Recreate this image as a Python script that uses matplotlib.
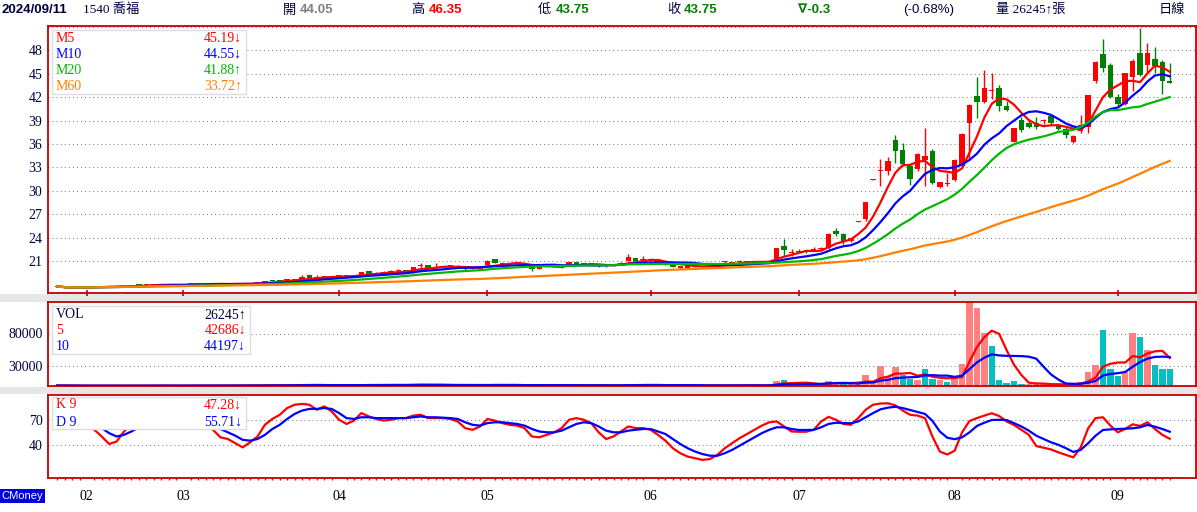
import matplotlib
matplotlib.use('Agg')
import matplotlib.pyplot as plt
from matplotlib.patches import Rectangle
import numpy as np
import pandas as pd

# ---------------- data (daily, 2024-01-26 .. 2024-09-11) ----------------
opens = [
    17.8, 17.6, 17.55, 17.55, 17.6, 17.7, 17.8, 17.75, 17.7, 17.75,
    17.85, 18.0, 18.0, 17.95, 17.97, 18.0, 17.95, 17.97, 18.05, 18.1,
    18.05, 18.1, 18.1, 18.05, 18.05, 18.1, 18.1, 18.2, 18.3, 18.5,
    18.5, 18.4, 18.6, 18.6, 19.2, 18.8, 19.0, 19.0, 19.05, 19.05,
    19.1, 19.1, 19.7, 19.4, 19.55, 19.4, 19.7, 19.75, 19.55, 20.35,
    20.49, 20.1, 20.25, 20.35, 20.4, 20.05, 19.95, 20.0, 20.49, 21.26,
    20.75, 20.6, 20.6, 20.75, 20.27, 20.0, 20.3, 20.35, 20.3, 20.54,
    20.9, 20.6, 20.7, 20.45, 20.35, 20.4, 20.55, 21.04, 21.34, 21.15,
    21.3, 21.0, 20.65, 20.5, 20.1, 20.1, 20.4, 20.3, 20.35, 20.3,
    20.85, 20.8, 20.9, 20.95, 20.85, 20.9, 20.9, 21.0, 23.0, 22.05,
    22.3, 22.3, 22.35, 22.55, 22.62, 24.83, 24.41, 23.6, 26.0, 26.33,
    31.4, 32.55, 32.58, 36.54, 35.27, 33.13, 32.84, 33.99, 35.14, 30.45,
    30.9, 31.35, 33.22, 38.68, 42.16, 41.4, 42.75, 43.18, 40.88, 36.29,
    39.1, 38.63, 38.65, 38.95, 39.61, 38.33, 37.91, 36.2, 37.6, 38.12,
    44.07, 47.53, 46.12, 42.07, 41.1, 44.63, 47.62, 46.1, 46.9, 46.5,
    44.05,
]
highs = [
    17.85, 17.65, 17.6, 17.65, 17.75, 17.85, 17.85, 17.8, 17.8, 17.85,
    18.0, 18.05, 18.05, 18.0, 18.05, 18.0, 18.0, 18.05, 18.15, 18.1,
    18.15, 18.15, 18.1, 18.1, 18.15, 18.15, 18.2, 18.35, 18.4, 18.55,
    18.55, 18.75, 18.65, 19.2, 19.25, 19.2, 19.1, 19.1, 19.1, 19.15,
    19.25, 19.65, 19.75, 19.55, 19.7, 19.85, 20.05, 19.8, 20.3, 20.7,
    20.5, 20.7, 20.4, 20.45, 20.45, 20.1, 20.05, 20.25, 21.1, 21.3,
    20.85, 20.7, 20.8, 20.8, 20.3, 20.5, 20.4, 20.4, 20.45, 20.9,
    20.95, 20.7, 20.75, 20.5, 20.5, 20.6, 20.85, 21.86, 21.4, 21.6,
    21.35, 21.1, 20.7, 20.55, 20.4, 20.45, 20.45, 20.35, 20.4, 20.55,
    21.0, 20.95, 21.2, 21.0, 20.95, 20.95, 21.05, 22.7, 23.8, 22.6,
    22.5, 22.4, 22.85, 22.8, 24.63, 25.27, 24.63, 24.0, 26.1, 28.6,
    31.5, 34.12, 34.28, 37.18, 36.12, 33.57, 34.84, 38.04, 35.35, 31.15,
    32.3, 34.1, 37.4, 41.1, 44.63, 45.5, 45.06, 43.5, 41.52, 38.1,
    39.39, 39.19, 39.45, 39.15, 39.8, 38.5, 38.33, 37.1, 39.7, 42.3,
    46.6, 49.4, 46.42, 42.37, 45.1, 46.85, 50.9, 48.97, 48.4, 46.8,
    46.35,
]
lows = [
    17.7, 17.55, 17.5, 17.5, 17.6, 17.7, 17.7, 17.65, 17.7, 17.75,
    17.8, 17.95, 17.9, 17.9, 17.95, 17.9, 17.9, 17.95, 18.0, 18.0,
    18.05, 18.05, 18.0, 18.0, 18.05, 18.05, 18.1, 18.15, 18.3, 18.4,
    18.4, 18.4, 18.55, 18.55, 18.8, 18.8, 18.95, 19.0, 19.0, 19.05,
    19.1, 19.1, 19.4, 19.35, 19.45, 19.4, 19.65, 19.7, 19.5, 20.07,
    20.0, 20.05, 20.2, 20.3, 20.25, 19.9, 19.9, 20.0, 20.45, 20.75,
    20.55, 20.55, 20.6, 20.55, 19.8, 19.98, 20.25, 20.25, 20.1, 20.5,
    20.5, 20.55, 20.5, 20.3, 20.3, 20.4, 20.5, 21.0, 21.0, 20.8,
    21.05, 20.85, 20.45, 20.2, 20.05, 20.05, 20.25, 20.2, 20.25, 20.25,
    20.75, 20.8, 20.85, 20.8, 20.8, 20.85, 20.9, 20.95, 21.6, 21.6,
    22.0, 22.1, 22.28, 22.4, 22.49, 24.19, 23.13, 23.5, 25.95, 26.2,
    31.35, 30.58, 32.07, 33.57, 33.13, 30.8, 32.49, 30.58, 30.9, 30.4,
    30.58, 31.2, 33.1, 33.99, 39.31, 41.3, 41.74, 40.16, 40.16, 36.2,
    37.56, 38.1, 37.97, 38.6, 38.4, 37.8, 36.71, 36.1, 37.36, 37.4,
    43.78, 45.23, 41.82, 40.67, 41.0, 42.8, 44.7, 45.1, 45.1, 42.4,
    43.75,
]
closes = [
    17.75, 17.6, 17.55, 17.6, 17.7, 17.8, 17.75, 17.7, 17.75, 17.8,
    17.9, 17.98, 17.95, 17.97, 18.0, 17.95, 17.97, 18.0, 18.1, 18.05,
    18.12, 18.1, 18.05, 18.05, 18.1, 18.1, 18.15, 18.25, 18.35, 18.45,
    18.45, 18.7, 18.6, 19.0, 18.8, 19.0, 19.0, 19.05, 19.05, 19.1,
    19.2, 19.6, 19.4, 19.5, 19.5, 19.7, 19.75, 19.72, 20.27, 20.4,
    20.07, 20.25, 20.35, 20.4, 20.3, 19.95, 20.0, 20.2, 21.04, 20.79,
    20.6, 20.65, 20.75, 20.6, 19.98, 20.3, 20.35, 20.3, 20.4, 20.83,
    20.56, 20.65, 20.55, 20.35, 20.4, 20.5, 20.8, 21.55, 21.04, 21.17,
    21.1, 20.9, 20.5, 20.3, 20.35, 20.4, 20.3, 20.25, 20.3, 20.5,
    20.9, 20.9, 20.95, 20.85, 20.9, 20.9, 21.0, 22.62, 22.4, 22.1,
    22.2, 22.25, 22.5, 22.62, 24.41, 24.41, 23.55, 23.9, 26.05, 28.59,
    31.45, 32.6, 33.86, 35.05, 33.48, 31.56, 34.71, 34.41, 31.0, 31.1,
    31.0, 33.99, 37.31, 41.01, 41.43, 43.1, 42.85, 40.8, 40.37, 38.07,
    37.82, 38.2, 38.2, 39.1, 38.63, 37.86, 37.18, 37.05, 38.46, 42.29,
    46.5, 45.66, 41.95, 41.1, 45.06, 46.63, 44.8, 47.6, 46.0, 44.05,
    43.75,
]
volumes = [
    800, 600, 500, 400, 500, 700, 400, 300, 400, 500,
    900, 700, 600, 500, 500, 400, 500, 600, 700, 500,
    800, 600, 500, 500, 600, 700, 800, 1500, 1300, 1100,
    900, 1800, 1000, 2200, 1700, 1500, 1000, 900, 800, 900,
    1000, 2500, 1800, 1300, 1200, 2000, 1800, 1200, 2600, 2000,
    1500, 1600, 1300, 1100, 900, 1200, 800, 900, 2800, 2200,
    1300, 900, 1000, 900, 1500, 1200, 800, 700, 900, 1600,
    1400, 800, 900, 1000, 700, 800, 1200, 2600, 1800, 1600,
    1100, 900, 1000, 900, 800, 900, 700, 600, 600, 800,
    1500, 1100, 1200, 900, 800, 700, 900, 8000, 9500, 3200,
    2600, 2000, 2400, 2800, 7800, 5600, 3600, 3000, 5100, 16300,
    5000, 30000, 14800, 28500, 16300, 10200, 8700, 25500, 10200, 8700,
    5600, 11000, 33100, 127400, 119300, 81000, 60700, 8700, 4100, 7100,
    3000, 2500, 2800, 3000, 2600, 2200, 2400, 3500, 6000, 20900,
    31600, 85100, 25700, 15300, 21400, 81000, 74900, 55200, 31600, 25500,
    26245,
]
k_values = [
    70, 72, 70, 68, 64, 58, 50, 41, 44, 56,
    64, 70, 72, 74, 75, 74, 72, 70, 68, 66,
    63, 58, 49, 47, 42, 37, 43, 50, 64, 71,
    76, 84, 88, 89, 88, 82, 86, 80, 70, 65,
    69, 78, 74, 71, 69, 70, 72, 72, 75, 76,
    72, 72, 72, 71, 68, 60, 58, 62, 71, 69,
    66, 64, 63, 60, 50, 49, 52, 55, 60, 70,
    72, 70, 66, 55, 47, 50, 56, 62, 60, 60,
    58, 52, 45, 36, 30, 26, 24, 22, 23, 28,
    36, 42, 48, 53, 58, 63, 67, 68, 62, 56,
    55.7, 55.7, 58, 68, 73.5, 70, 65, 64, 72, 82,
    88, 89.5, 89.7, 87.3, 81, 76, 75, 72, 50, 32,
    28.5, 33, 55, 68.5, 72, 75, 77.8, 74.5, 68, 63.8,
    58, 52, 38.6, 36.5, 34.5, 31, 28, 25, 37, 59.8,
    72, 73, 63, 55, 59, 64.6, 62.6, 67, 59, 52,
    47.28,
]
d_values = [
    68, 69, 69, 68, 66, 62, 60, 54, 50, 52,
    56, 61, 65, 68, 70, 71, 71, 71, 70, 69,
    67, 64, 59, 55, 51, 46, 45, 47, 52, 59,
    64, 71, 77, 81, 83, 83, 84, 83, 78, 72,
    71, 73, 73, 72, 72, 72, 72, 72, 73, 74,
    73, 73, 72.5, 72, 71, 67, 64, 63, 66, 67,
    67, 66, 65, 63, 59, 56, 55, 55, 57, 61,
    65, 67, 66, 62, 57, 55, 55, 57, 58, 59,
    59, 56, 53, 47, 41, 36, 32, 29, 27, 27,
    30, 34, 39, 44, 49, 54, 58, 61, 61, 59,
    57.8, 57.8, 58, 61, 65, 66.5, 66, 65.8, 68, 73,
    78, 82.5, 84.5, 85.6, 84, 81.7, 79.5, 77, 68.7, 56,
    48.5, 46.8, 49, 55, 62.6, 66.5, 69.7, 70, 69.7, 66,
    62, 57, 51, 47, 43, 40, 36, 31.5, 34, 42,
    51, 57.8, 58.5, 59, 59.3, 59.8, 61, 63.8, 61.7, 59,
    55.71,
]

month_labels = ['02', '03', '04', '05', '06', '07', '08', '09']
month_starts = [4, 17, 38, 58, 80, 100, 121, 143]

price_ticks = [21, 24, 27, 30, 33, 36, 39, 42, 45, 48]
vol_ticks = [30000, 80000]
kd_ticks = [40, 70]

ma_names = ['M5', 'M10', 'M20', 'M60']
ma_windows = [5, 10, 20, 60]
ma_texts = ['45.19\u2193', '44.55\u2193', '41.88\u2191', '33.72\u2191']
vol_names = ['VOL', '5', '10']
vol_texts = ['26245\u2191', '42686\u2193', '44197\u2193']
kd_names = ['K 9', 'D 9']
kd_texts = ['47.28\u2193', '55.71\u2193']

# ---------------- style ----------------
RED = '#FF0000'
GREEN = '#008000'
BLUE = '#0000FF'
NAVY = '#000040'
FRAME = '#C00000'
GRID = '#808080'
ma_colors = [RED, BLUE, '#00B800', '#FF8000']

plt.rcParams['font.family'] = ['Liberation Serif', 'DejaVu Sans']
W, H = 1197, 512


def fx(x):
    return x / W


def fy(y):
    return 1 - y / H


fig = plt.figure(figsize=(W / 100, H / 100), dpi=100)
fig.patch.set_facecolor('white')


def panel(top, bottom):
    return fig.add_axes([fx(48), fy(bottom), (1195.7 - 48) / W, (bottom - top) / H])


ax_p = panel(26, 293)
ax_v = panel(302, 386)
ax_k = panel(394.7, 478.3)

# grey separators between panels
for y0, y1 in [(293.5, 301.5), (386.5, 394.2)]:
    fig.add_artist(Rectangle((0, fy(y1)), 1, (y1 - y0) / H, transform=fig.transFigure,
                             facecolor='#E6E6E6', edgecolor='none', zorder=-1))

x = np.arange(len(closes))
o = np.array(opens)
h = np.array(highs)
l = np.array(lows)
c = np.array(closes)
vol = np.array(volumes, dtype=float)

for ax in (ax_p, ax_v, ax_k):
    ax.set_xlim(-1.25, 153.5)
    for s in ax.spines.values():
        s.set_color(FRAME)
        s.set_linewidth(1.3)
    ax.tick_params(axis='y', length=0, pad=4, labelsize=10, labelcolor=NAVY)
    ax.set_facecolor('white')

# ---- price panel ----
ax_p.set_ylim(16.92, 51.1)
ax_p.set_yticks(price_ticks)
for v in price_ticks + [51]:
    ax_p.axhline(v, color=GRID, lw=0.75, ls=(0, (1, 2.9)), zorder=0.5)

up = c >= o
cols = np.where(up, RED, GREEN)
ax_p.vlines(x, l, h, colors=cols, lw=1, zorder=2)
ax_p.bar(x, np.maximum(np.abs(c - o), 0.12), bottom=np.minimum(o, c), width=0.74,
         color=cols, lw=0, zorder=3)

close_s = pd.Series(c)
for w, col in zip(ma_windows, ma_colors):
    ax_p.plot(x, close_s.rolling(w, min_periods=1).mean(), color=col, lw=1.6, zorder=4)

ax_p.set_xticks(month_starts)
ax_p.tick_params(axis='x', direction='inout', length=4.5, width=1.2, color=FRAME,
                 labelbottom=False)

# ---- volume panel ----
ax_v.set_ylim(0, 128000)
ax_v.set_yticks(vol_ticks)
for v in vol_ticks:
    ax_v.axhline(v, color=GRID, lw=0.75, ls=(0, (1, 2.9)), zorder=0.5)
prev = np.concatenate([[o[0]], c[:-1]])
vcols = np.where(c >= prev, '#FF8080', '#00C0C0')
ax_v.bar(x, vol, width=0.86, color=vcols, lw=0, zorder=2)
vol_s = pd.Series(vol)
ax_v.plot(x, vol_s.rolling(5, min_periods=1).mean(), color=RED, lw=1.6, zorder=4)
ax_v.plot(x, vol_s.rolling(10, min_periods=1).mean(), color=BLUE, lw=1.6, zorder=4)
ax_v.set_xticks([])

# ---- KD panel ----
ax_k.set_ylim(0, 100)
ax_k.set_yticks(kd_ticks)
for v in kd_ticks:
    ax_k.axhline(v, color=GRID, lw=0.75, ls=(0, (1, 2.9)), zorder=0.5)
ax_k.plot(x, k_values, color=RED, lw=1.6, zorder=4)
ax_k.plot(x, d_values, color=BLUE, lw=1.6, zorder=4)
ax_k.set_xticks(month_starts)
ax_k.set_xticklabels(month_labels, fontsize=10, color='black')
ax_k.tick_params(axis='x', length=0, pad=8.5)
ax_k.set_xticks(x, minor=True)
ax_k.tick_params(axis='x', which='minor', direction='out', length=1.6, width=1, color=RED)


# ---- legends ----
def legend_box(x0, y0, x1, y1, names, texts, colors, rows_y, val_right):
    fig.add_artist(Rectangle((fx(x0), fy(y1)), (x1 - x0) / W, (y1 - y0) / H,
                             transform=fig.transFigure, facecolor='white',
                             edgecolor='#DDDDDD', lw=1, zorder=5))
    for name, txt, col, yy in zip(names, texts, colors, rows_y):
        fig.text(fx(56), fy(yy), name, color=col, fontsize=10, va='center', zorder=6)
        fig.text(fx(val_right), fy(yy), txt, color=col, fontsize=10, va='center',
                 ha='right', zorder=6)


legend_box(52, 30, 246, 94, ma_names, ma_texts, ma_colors, [38, 54, 70, 86], 242)
legend_box(52, 306, 250, 354, vol_names, vol_texts, [NAVY, RED, BLUE], [315, 330, 346], 246)
legend_box(52, 397, 246, 429, kd_names, kd_texts, [RED, BLUE], [405, 422], 242)

# ---- header ----
SANS = ['Liberation Sans', 'DejaVu Sans']
CJK = ['Noto Sans CJK TC']
hy = fy(10)
fig.text(fx(2), hy, '2024/09/11', fontsize=9.5, fontweight='bold', color=NAVY,
         family=SANS, va='center')
fig.text(fx(83), hy, '1540 喬福', fontsize=9.5, color=NAVY,
         family=['Liberation Serif', 'Noto Sans CJK TC'], va='center')
header_items = [
    (283, '開', 300, '44.05', '#808080'),
    (411, '高', 429, '46.35', RED),
    (538, '低', 556, '43.75', GREEN),
    (667, '收', 684, '43.75', GREEN),
]
for lx, lab, vx, val, col in header_items:
    fig.text(fx(lx), hy, lab, fontsize=9.5, color=NAVY, family=CJK, va='center')
    fig.text(fx(vx), hy, val, fontsize=9.5, fontweight='bold', color=col,
             family=SANS, va='center')
fig.text(fx(798), hy, '\u2207-0.3', fontsize=9.5, fontweight='bold', color=GREEN,
         family=SANS, va='center')
fig.text(fx(903), hy, '(-0.68%)', fontsize=9.5, color=NAVY, family=SANS, va='center')
fig.text(fx(996), hy, '量 26245\u2191張', fontsize=9.5, color=NAVY,
         family=['Liberation Serif', 'Noto Sans CJK TC', 'DejaVu Sans'], va='center')
fig.text(fx(1159), hy, '日線', fontsize=9.5, color=NAVY, family=CJK, va='center')

# CMoney badge
fig.text(fx(1.5), fy(496), 'CMoney', fontsize=8, color='white', family=SANS, va='center',
         bbox=dict(facecolor='#0000E0', edgecolor='none', pad=1.2))

fig.savefig('out.png', dpi=100, facecolor='white')
